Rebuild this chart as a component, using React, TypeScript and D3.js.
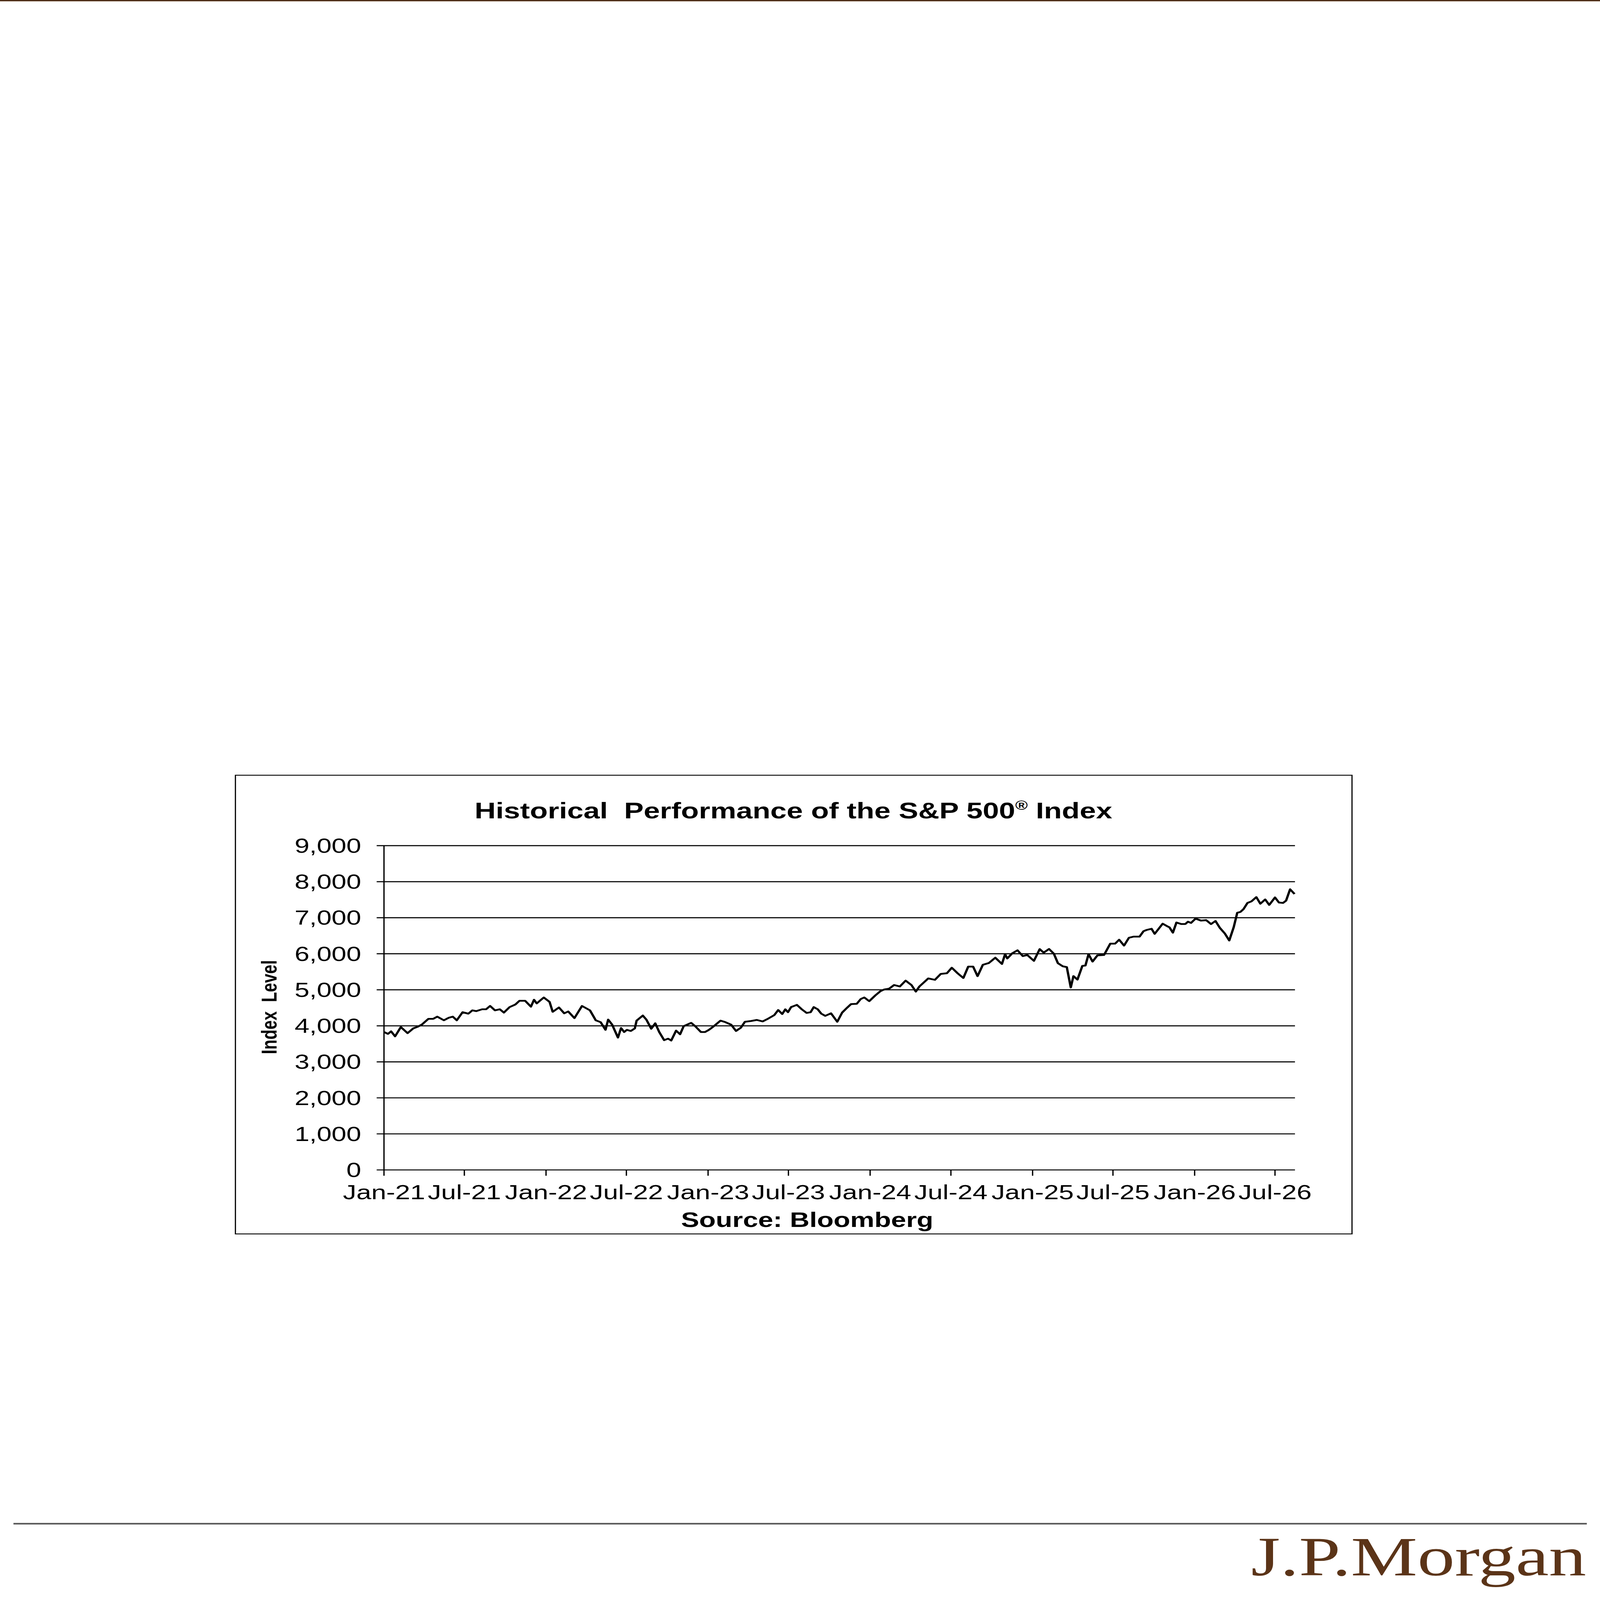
import React from "react";
import * as d3 from "d3";

// ---- Data ----
const dates: string[] = [
  "2021-01-01","2021-01-10","2021-01-17","2021-01-26","2021-02-08","2021-02-23","2021-03-08","2021-03-19","2021-03-28",
  "2021-04-11","2021-04-22","2021-05-01","2021-05-16","2021-05-27","2021-06-05","2021-06-14","2021-06-27","2021-07-10",
  "2021-07-19","2021-07-28","2021-08-10","2021-08-19","2021-08-28","2021-09-08","2021-09-19","2021-09-28","2021-10-11",
  "2021-10-24","2021-11-02","2021-11-15","2021-11-28","2021-12-05","2021-12-11","2021-12-27",
  "2022-01-09","2022-01-16","2022-01-30","2022-02-11","2022-02-20","2022-03-06","2022-03-23","2022-04-10","2022-04-23",
  "2022-05-04","2022-05-15","2022-05-21","2022-05-30","2022-06-12","2022-06-19","2022-06-26","2022-07-02","2022-07-11",
  "2022-07-20","2022-07-24","2022-08-07","2022-08-15","2022-08-26","2022-09-04","2022-09-13","2022-09-24","2022-10-03",
  "2022-10-10","2022-10-21","2022-10-30","2022-11-07","2022-11-24","2022-12-03","2022-12-16","2022-12-25",
  "2023-01-03","2023-01-14","2023-01-29","2023-02-09","2023-02-22","2023-03-05","2023-03-16","2023-03-25","2023-04-08",
  "2023-04-21","2023-05-04","2023-05-17","2023-05-30","2023-06-08","2023-06-17","2023-06-24","2023-06-30","2023-07-07",
  "2023-07-20","2023-07-31","2023-08-11","2023-08-20","2023-08-27","2023-09-05","2023-09-13","2023-09-22","2023-10-05",
  "2023-10-19","2023-10-30","2023-11-10","2023-11-19","2023-12-02","2023-12-11","2023-12-19","2023-12-30",
  "2024-01-13","2024-01-24","2024-02-02","2024-02-13","2024-02-24","2024-03-08","2024-03-21","2024-04-03","2024-04-13",
  "2024-04-21","2024-05-11","2024-05-26","2024-06-08","2024-06-22","2024-07-03","2024-07-16","2024-07-29","2024-08-09",
  "2024-08-20","2024-08-30","2024-09-11","2024-09-22","2024-09-24","2024-10-09","2024-10-24","2024-10-31","2024-11-05",
  "2024-11-16","2024-11-28","2024-12-10","2024-12-20",
  "2025-01-04","2025-01-17","2025-01-26","2025-02-07","2025-02-18","2025-02-27","2025-03-10","2025-03-19","2025-03-28",
  "2025-04-03","2025-04-12","2025-04-23","2025-04-30","2025-05-07","2025-05-16","2025-05-27","2025-06-11","2025-06-25",
  "2025-07-06","2025-07-15","2025-07-26","2025-08-06","2025-08-17","2025-08-30","2025-09-08","2025-09-15","2025-09-26",
  "2025-10-03","2025-10-21","2025-11-01","2025-11-05","2025-11-13","2025-11-21","2025-12-02","2025-12-11","2025-12-17",
  "2025-12-24",
  "2026-01-03","2026-01-15","2026-01-27","2026-02-07","2026-02-17","2026-02-27","2026-03-10","2026-03-20","2026-03-30",
  "2026-04-07","2026-04-14","2026-04-21","2026-04-30","2026-05-09","2026-05-20","2026-05-29","2026-06-09","2026-06-18",
  "2026-07-01","2026-07-10","2026-07-19","2026-07-26","2026-08-04","2026-08-14",
];

const values: number[] = [
  3827,3776,3847,3708,3965,3796,3929,3980,4041,
  4194,4194,4255,4153,4224,4255,4153,4378,4337,
  4429,4408,4459,4459,4551,4429,4459,4367,4520,
  4592,4694,4694,4531,4724,4622,4786,
  4663,4388,4510,4347,4398,4214,4551,4429,4153,
  4102,3888,4173,4031,3673,3939,3827,3888,3857,
  3929,4143,4286,4173,3918,4071,3827,3602,3643,
  3592,3867,3765,3990,4082,3990,3827,3827,
  3888,3990,4143,4102,4031,3857,3949,4112,4133,
  4163,4122,4204,4296,4439,4327,4459,4378,4520,
  4582,4459,4357,4378,4520,4459,4337,4276,4347,
  4112,4367,4500,4602,4612,4745,4786,4684,
  4847,4959,5010,5031,5133,5092,5255,5133,4949,
  5092,5316,5276,5439,5459,5612,5459,5327,5643,
  5643,5378,5694,5735,5738,5890,5717,5988,5869,
  6010,6096,5934,5966,
  5803,6129,6031,6133,5999,5738,5651,5630,5065,
  5380,5282,5662,5673,5988,5782,5955,5966,6281,
  6281,6389,6227,6444,6476,6476,6628,6661,6693,
  6552,6834,6758,6737,6585,6867,6824,6824,6889,
  6856,
  6975,6921,6932,6824,6910,6715,6563,6368,6737,
  7138,7160,7236,7410,7453,7572,7388,7507,7355,
  7562,7420,7410,7475,7789,7659,
];

const yTicks: number[] = [0, 1000, 2000, 3000, 4000, 5000, 6000, 7000, 8000, 9000];
const xDomain: string[] = ["2021-01-01", "2026-08-15"];
const titleText = "Historical  Performance of the S&P 500";
const titleSup = "®";
const titleTail = " Index";
const yLabel = "Index  Level";
const sourceText = "Source: Bloomberg";
const logoText = "J.P.Morgan";

const W = 5471;
const H = 7203;
const SANS = "'Liberation Sans', Arial, Helvetica, sans-serif";
const SERIF = "'Liberation Serif', 'Times New Roman', serif";

export default function App() {
  const parse = d3.timeParse("%Y-%m-%d");
  const pts = dates.map((d, i) => ({ date: parse(d) as Date, value: values[i] }));

  const plot = { left: 1313, right: 4428, top: 3807, bottom: 5267 };

  const x = d3
    .scaleTime()
    .domain([parse(xDomain[0]) as Date, parse(xDomain[1]) as Date])
    .range([plot.left, plot.right]);
  const y = d3.scaleLinear().domain([0, 9000]).range([plot.bottom, plot.top]);

  const xTicks = d3.timeMonth.every(6)!.range(parse("2021-01-01") as Date, parse("2026-08-02") as Date);
  const fmtX = d3.timeFormat("%b-%y");
  const fmtY = d3.format(",");

  const line = d3
    .line<{ date: Date; value: number }>()
    .x((d) => x(d.date))
    .y((d) => y(d.value))
    .curve(d3.curveLinear);

  return (
    <svg
      viewBox={`0 0 ${W} ${H}`}
      preserveAspectRatio="none"
      style={{ position: "fixed", left: 0, top: 0, width: "100vw", height: "100vh", background: "#ffffff" }}
    >
      <rect x={0} y={0} width={W} height={H} fill="#ffffff" />
      {/* header bar */}
      <rect x={0} y={0} width={W} height={6} fill="#4a2a14" />
      <rect x={0} y={6} width={W} height={3} fill="#f6eee6" />

      {/* chart frame */}
      <rect x={805} y={3490} width={4623 - 805} height={5555 - 3490} fill="#ffffff" stroke="#000" strokeWidth={4} />

      {/* title */}
      <text
        x={2713}
        y={3684}
        textAnchor="middle"
        fontFamily={SANS}
        fontWeight="bold"
        fontSize={100}
        fill="#000"
        style={{ whiteSpace: "pre" }}
      >
        {titleText}
        <tspan fontSize={58} dy={-38}>{titleSup}</tspan>
        <tspan dy={38}>{titleTail}</tspan>
      </text>

      {/* gridlines */}
      {yTicks.map((t) => (
        <line key={"g" + t} x1={plot.left - 25} x2={plot.right} y1={y(t)} y2={y(t)} stroke="#000" strokeWidth={4.5} />
      ))}

      {/* y axis */}
      <line x1={plot.left} x2={plot.left} y1={plot.top} y2={plot.bottom} stroke="#000" strokeWidth={4.5} />
      {yTicks.map((t) => (
        <text
          key={"yl" + t}
          x={1235}
          y={y(t)}
          dy="0.35em"
          textAnchor="end"
          fontFamily={SANS}
          fontSize={91}
          fill="#000"
        >
          {fmtY(t)}
        </text>
      ))}

      {/* x axis ticks and labels */}
      {xTicks.map((t, i) => (
        <g key={"xt" + i}>
          <line x1={x(t)} x2={x(t)} y1={plot.bottom} y2={plot.bottom + 26} stroke="#000" strokeWidth={4.5} />
          <text x={x(t)} y={5398} textAnchor="middle" fontFamily={SANS} fontSize={92} fill="#000">
            {fmtX(t)}
          </text>
        </g>
      ))}

      {/* y label */}
      <text
        transform={`translate(946,4534) rotate(-90)`}
        textAnchor="middle"
        fontFamily={SANS}
        fontWeight="bold"
        fontSize={74}
        fill="#000"
        style={{ whiteSpace: "pre" }}
      >
        {yLabel}
      </text>

      {/* series */}
      <path d={line(pts) || ""} fill="none" stroke="#000" strokeWidth={8} strokeLinejoin="round" />

      {/* source */}
      <text x={2760} y={5524} textAnchor="middle" fontFamily={SANS} fontWeight="bold" fontSize={93} fill="#000">
        {sourceText}
      </text>

      {/* footer */}
      <rect x={46} y={6856} width={5380} height={7} fill="#555555" />
      <text
        x={5424}
        y={7093}
        textAnchor="end"
        fontFamily={SERIF}
        fontSize={250}
        fill="#5b3418"
        textLength={1146}
        lengthAdjust="spacingAndGlyphs"
      >
        {logoText}
      </text>
    </svg>
  );
}
